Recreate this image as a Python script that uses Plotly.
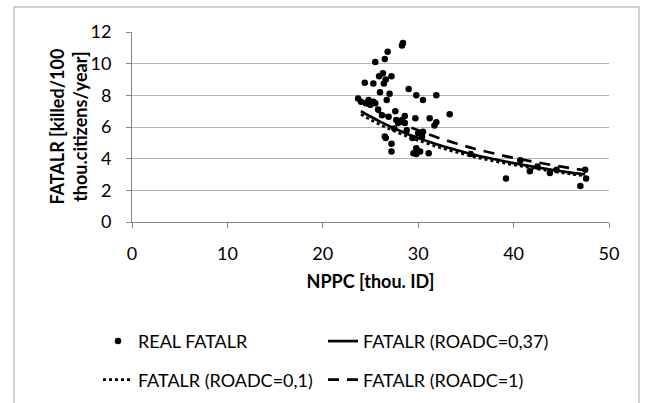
import plotly.graph_objects as go

# Observed data (NPPC [thou. ID], FATALR)
real_x = [28.4, 28.3, 26.8, 26.5, 25.5, 26.3, 25.9, 27.2, 26.6, 24.4, 25.3, 26.4, 29.0, 26.0,
          27.0, 29.8, 31.9, 30.5, 26.7, 23.7, 24.8, 25.3, 24.0, 24.5, 25.0, 25.5,
          28.6, 27.6, 26.2, 26.9, 29.7, 27.7, 27.9, 28.6, 28.3,
          26.5, 26.6, 27.2, 27.2, 29.8, 29.5, 29.8, 30.0, 30.4,
          33.3, 31.2, 31.9, 31.7, 30.5, 31.1, 30.2, 29.4,
          39.2, 47.0, 47.5, 47.6, 41.7, 43.8, 40.7,
          25.8, 27.5, 28.8, 35.5, 44.5, 42.5]
real_y = [11.3, 11.15, 10.75, 10.3, 10.1, 9.4, 9.2, 9.2, 9.0, 8.8, 8.75, 8.75, 8.4, 8.2,
          8.1, 8.0, 8.0, 7.7, 7.7, 7.8, 7.7, 7.6, 7.6, 7.5, 7.4, 7.5,
          6.7, 7.0, 6.75, 6.65, 6.55, 6.45, 6.25, 6.25, 6.45,
          5.4, 5.3, 4.95, 4.45, 4.65, 4.35, 4.3, 5.6, 5.4,
          6.8, 6.55, 6.3, 6.1, 5.7, 4.35, 4.45, 5.3,
          2.75, 2.27, 3.3, 2.75, 3.2, 3.1, 3.9,
          7.1, 5.9, 5.8, 4.3, 3.3, 3.5]

# Model curves
curve_x = [24, 25, 26, 27, 28, 29, 30, 32, 34, 36, 38, 40, 42, 44, 46, 47.5]
fatalr_037 = [7.00, 6.66, 6.34, 6.05, 5.78, 5.53, 5.31, 4.90, 4.55, 4.23, 3.96, 3.72, 3.50, 3.30, 3.12, 3.00]
fatalr_01 = [6.80, 6.46, 6.15, 5.87, 5.61, 5.36, 5.15, 4.75, 4.41, 4.10, 3.84, 3.61, 3.40, 3.20, 3.03, 2.91]
fatalr_1 = [7.63, 7.26, 6.91, 6.59, 6.30, 6.03, 5.79, 5.34, 4.96, 4.61, 4.32, 4.05, 3.82, 3.60, 3.40, 3.27]

x_ticks = [0, 10, 20, 30, 40, 50]
y_ticks = [0, 2, 4, 6, 8, 10, 12]

FONT = "Lato"
FS = 18

fig = go.Figure()
fig.add_trace(go.Scatter(x=real_x, y=real_y, mode="markers", name="REAL FATALR",
                         marker=dict(color="black", size=6.5), legend="legend", showlegend=True))
fig.add_trace(go.Scatter(x=curve_x, y=fatalr_037, mode="lines", name="FATALR (ROADC=0,37)",
                         line=dict(color="black", width=2.7, shape="spline"), legend="legend3"))
fig.add_trace(go.Scatter(x=curve_x, y=fatalr_01, mode="lines", name="FATALR (ROADC=0,1)",
                         line=dict(color="black", width=2.7, dash="dot", shape="spline"), legend="legend2"))
fig.add_trace(go.Scatter(x=curve_x, y=fatalr_1, mode="lines", name="FATALR (ROADC=1)",
                         line=dict(color="black", width=2.7, dash="11px,8px", shape="spline"), legend="legend4"))

axis_common = dict(showline=True, linecolor="#868686", linewidth=1, ticks="outside",
                   tickcolor="#868686", ticklen=5, zeroline=False,
                   tickfont=dict(family=FONT, size=FS, color="black"))

fig.update_xaxes(range=[0, 50], tickvals=x_ticks, showgrid=False, ticklabelstandoff=10,
                 title=dict(text="<b>NPPC [thou. ID]</b>", font=dict(family=FONT, size=FS, color="black"),
                            standoff=12), **axis_common)
fig.update_yaxes(range=[0, 12], tickvals=y_ticks, showgrid=True, gridcolor="#B3B3B3", gridwidth=1,
                 ticklabelstandoff=11, **axis_common)

legend_common = dict(orientation="h", xanchor="left", yanchor="top",
                     font=dict(family=FONT, size=FS, color="black"),
                     bgcolor="rgba(0,0,0,0)")

col1 = -0.0713
col2 = 0.4004
row1 = -0.531
row2 = -0.734

fig.update_layout(
    width=645, height=403,
    showlegend=True,
    margin=dict(l=132, r=36, t=32, b=181, autoexpand=False),
    paper_bgcolor="white", plot_bgcolor="white",
    font=dict(family=FONT, size=FS, color="black"),
    legend=dict(x=col1, y=row1, visible=True, **legend_common),
    legend2=dict(x=col1, y=row2, **legend_common),
    legend3=dict(x=col2, y=row1, **legend_common),
    legend4=dict(x=col2, y=row2, **legend_common),
    annotations=[dict(text="<b>FATALR [killed/100<br>thou.citizens/year]</b>", textangle=-90,
                      xref="paper", yref="paper", x=-0.135, y=0.5, xanchor="center", yanchor="middle",
                      showarrow=False, font=dict(family=FONT, size=FS, color="black"))],
    shapes=[dict(type="rect", xref="paper", yref="paper", x0=-0.2474, x1=1.0629, y0=-0.99, y1=1.1316,
                 line=dict(color="#A0A0A0", width=1), layer="below")],
)

fig.write_html("out.html")
